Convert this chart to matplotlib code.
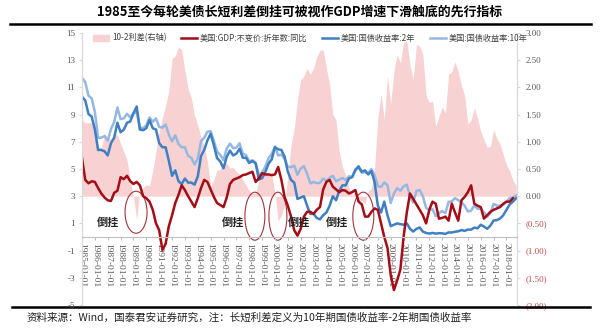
import matplotlib
matplotlib.use("Agg")
import matplotlib.pyplot as plt
from matplotlib.lines import Line2D
from matplotlib.patches import Ellipse, Patch
import numpy as np

plt.rcParams['font.family'] = ['Noto Sans CJK SC', 'DejaVu Sans']
plt.rcParams['axes.unicode_minus'] = False

# 季度数据（年份+小数表示季度起点）
q_start = 1985.0
quarters = np.arange(0, 136) * 0.25 + q_start

# 美国10年期国债收益率
y10 = [
    11.7, 11.4, 10.4, 10.2,
    9.19, 7.30, 7.30, 7.43,
    7.08, 7.94, 8.45, 9.52,
    8.67, 8.72, 9.06, 8.80,
    9.09, 9.18, 8.02, 8.01,
    8.21, 8.79, 8.47, 8.72,
    8.09, 8.04, 8.27, 7.53,
    7.03, 7.48, 6.84, 6.59,
    6.60, 5.97, 5.81, 5.33,
    5.75, 7.04, 7.30, 7.74,
    7.78, 7.06, 6.28, 6.04,
    5.65, 6.51, 6.87, 6.53,
    6.58, 6.89, 6.12, 6.03,
    5.54, 5.64, 5.46, 4.53,
    4.72, 5.18, 5.79, 6.11,
    6.66, 5.99, 6.05, 5.74,
    5.16, 5.14, 5.24, 4.57,
    5.04, 5.21, 4.65, 3.94,
    4.05, 3.96, 3.98, 4.29,
    4.15, 4.35, 4.50, 4.10,
    4.22, 4.34, 4.18, 4.46,
    4.42, 4.99, 5.09, 4.73,
    4.76, 4.69, 5.00, 4.53,
    3.74, 3.68, 4.01, 3.81,
    2.50, 3.20, 3.60, 3.40,
    3.73, 3.85, 3.01, 2.54,
    3.39, 3.46, 3.00, 2.15,
    1.97, 2.05, 1.53, 1.75,
    1.91, 1.76, 2.58, 2.62,
    2.86, 2.71, 2.54, 2.30,
    1.88, 1.94, 2.32, 2.07,
    2.09, 1.81, 1.50, 1.76,
    2.43, 2.30, 2.32, 2.36,
    2.58, 2.87, 2.89, 3.05,
]

# 美国2年期国债收益率
y2 = [
    10.3, 10.05, 9.05, 8.85,
    7.9, 6.4, 6.4, 6.3,
    6.0, 6.9, 7.3, 8.4,
    7.7, 7.9, 8.4, 8.5,
    9.1, 9.6, 7.9, 7.85,
    8.0, 8.6, 8.0, 7.9,
    6.9, 6.6, 6.6, 5.6,
    4.5, 4.9, 4.1, 3.9,
    4.3, 4.0, 4.0, 3.85,
    4.45, 5.95, 6.4, 7.1,
    7.6, 6.75, 5.8, 5.55,
    5.05, 5.9, 6.35, 6.0,
    6.13, 6.49, 5.82, 5.83,
    5.44, 5.59, 5.41, 4.23,
    4.32, 4.78, 5.39, 5.71,
    6.6, 6.45, 6.4, 5.9,
    4.8, 4.2, 4.0, 2.8,
    2.9, 3.0, 2.3, 1.7,
    1.7, 1.4, 1.3, 1.6,
    1.8, 2.3, 3.0, 2.7,
    3.4, 3.8, 3.8, 4.3,
    4.4, 4.9, 5.2, 4.8,
    4.9, 4.6, 4.85, 4.0,
    2.3, 1.8, 2.6, 1.6,
    0.8, 0.9, 1.0, 0.95,
    0.9, 1.0, 0.6, 0.4,
    0.6, 0.7, 0.4, 0.3,
    0.25, 0.3, 0.25, 0.28,
    0.27, 0.23, 0.34, 0.33,
    0.39, 0.42, 0.51, 0.45,
    0.55, 0.54, 0.69, 0.64,
    0.90, 0.77, 0.60, 0.84,
    1.21, 1.24, 1.36, 1.60,
    2.00, 2.40, 2.60, 2.85,
]

# 美国GDP不变价折年数同比
gdp = [
    5.8, 4.2, 3.95, 4.1,
    4.05, 3.6, 3.2, 2.9,
    2.7, 2.65, 3.25, 3.4,
    4.4, 4.25, 4.5, 4.1,
    3.9, 4.05, 3.8, 3.0,
    2.85, 2.6, 2.0, 1.0,
    0.5, -0.95, -0.5, 0.8,
    1.6, 2.5, 3.1, 3.8,
    3.45, 3.0, 2.6, 2.2,
    2.85, 3.6, 4.2, 4.05,
    3.5, 2.95, 2.5, 2.35,
    2.2, 2.9, 3.9, 4.2,
    4.3, 4.4, 4.55, 4.6,
    4.7, 4.8, 4.05, 4.3,
    4.7, 4.6, 4.6, 4.55,
    4.6, 5.15, 4.2, 2.95,
    2.3, 1.5, 0.5, 0.1,
    0.6, 1.5, 1.85, 1.85,
    1.7, 2.0, 2.2, 3.5,
    4.05, 4.2, 3.7, 3.5,
    3.3, 3.45, 3.4, 3.2,
    3.3, 3.45, 2.6, 2.4,
    1.5, 1.5, 1.85, 2.1,
    2.0, 1.0, 0.0, -0.8,
    -2.8, -3.9, -3.2, -2.4,
    0.0, 1.8, 3.2, 2.8,
    2.4, 2.0, 1.6, 1.0,
    2.0, 2.6, 2.45, 1.35,
    1.4, 1.5, 1.2, 2.45,
    1.8, 1.2, 2.7, 2.95,
    3.3, 3.8, 2.45, 2.3,
    2.2, 1.35, 1.6, 1.85,
    2.0, 2.1, 2.2, 2.45,
    2.6, 2.6, 2.85,
]

# 倒挂标注位置与椭圆圈
tag_x = [1986.98, 1996.73, 2001.86, 2004.8]
tag_y = 1.1
ring_x = [1989.2, 1998.44, 2000.23, 2006.87]
ring_y = [1.82, 1.53, 1.53, 1.53]
ring_w = [1.71, 1.55, 1.4, 1.63]
ring_h = [3.09, 3.53, 3.53, 3.53]

years = list(range(1985, 2019))
year_labels = [f"{y}-01-01" for y in years]

y10 = np.array(y10)
y2 = np.array(y2)
spread = y10 - y2

PINK = '#F8D2D2'
RED = '#A50D16'
BLUE = '#3F7FC2'
LBLUE = '#95B8E2'
GRAY = '#595959'

fig = plt.figure(figsize=(6, 3.32), dpi=100)
ax = fig.add_axes([0.1367, 0.0813, 0.725, 0.8193])
ax2 = ax.twinx()

# 先定位横轴，再设刻度（set_position 会重置刻度）
ax.spines['bottom'].set_position(('data', 0))

ax2.fill_between(quarters, 0, spread, color=PINK, lw=0)
ax2.set_ylim(-2, 3)
r_ticks = np.arange(-2, 3.01, 0.5)
r_labels = [f"({abs(v):.2f})" if v < 0 else f"{v:.2f}" for v in r_ticks]
ax2.set_yticks(r_ticks, r_labels)
ax2.tick_params(axis='y', length=2, pad=4, color='#D9D9D9', labelsize=6.5,
                labelfontfamily='Liberation Serif')
for v, lbl in zip(r_ticks, ax2.get_yticklabels()):
    lbl.set_color('#C0504D' if v < 0 else GRAY)

ax.plot(quarters, y10, color=LBLUE, lw=1.8)
ax.plot(quarters, y2, color=BLUE, lw=1.8)
ax.plot(quarters[:len(gdp)], gdp, color=RED, lw=1.8)

ax.set_zorder(2)
ax2.set_zorder(1)
ax.patch.set_visible(False)

ax.set_xlim(1985, 2018.82)
ax.set_ylim(-5, 15)
ax.set_yticks(range(-5, 16, 2))
ax.set_xticks(years, year_labels)
ax.tick_params(axis='y', length=2, pad=3, color='#D9D9D9', labelsize=6.5,
               labelcolor=GRAY, labelfontfamily='Liberation Serif')
ax.tick_params(axis='x', length=2, pad=2, color='#BFBFBF', labelsize=6.8,
               labelcolor=GRAY, labelrotation=270, labelfontfamily='Liberation Serif')

for a in (ax, ax2):
    a.spines['top'].set_visible(False)
    a.spines['left'].set_color('#D9D9D9')
    a.spines['right'].set_color('#D9D9D9')
    a.spines['bottom'].set_color('#BFBFBF')
ax2.spines['bottom'].set_visible(False)

for x in tag_x:
    ax.text(x, tag_y, '倒挂', fontsize=8, fontweight='bold', ha='center', va='center', color='#222222')
for cx, cy, w, h in zip(ring_x, ring_y, ring_w, ring_h):
    ax.add_patch(Ellipse((cx, cy), w, h, fill=False, ec='#A0353A', lw=0.8))

handles = [
    Patch(color=PINK),
    Line2D([], [], color=RED, lw=1.8),
    Line2D([], [], color=BLUE, lw=1.8),
    Line2D([], [], color=LBLUE, lw=1.8),
]
labels = ['10-2利差(右轴)', '美国:GDP:不变价:折年数:同比', '美国:国债收益率:2年', '美国:国债收益率:10年']
leg = ax.legend(handles, labels, loc='center left', bbox_to_anchor=(0.155, 0.8855),
                bbox_transform=fig.transFigure, ncol=4, frameon=False, fontsize=5.9,
                handlelength=2.0, handleheight=0.8, columnspacing=1.8, handletextpad=0.3,
                borderpad=0, borderaxespad=0)
for t in leg.get_texts():
    t.set_color('#404040')

fig.text(0.5, 1 - 12 / 332, '1985至今每轮美债长短利差倒挂可被视作GDP增速下滑触底的先行指标',
         ha='center', va='center', fontsize=9.3, fontweight='bold')
fig.add_artist(Line2D([0.017, 0.985], [1 - 23.5 / 332] * 2, color='black', lw=1.8))
fig.add_artist(Line2D([0.02, 0.983], [1 - 307 / 332] * 2, color='black', lw=1.8))
fig.text(0.045, 1 - 318 / 332,
         '资料来源：Wind，国泰君安证券研究，注：长短利差定义为10年期国债收益率-2年期国债收益率',
         ha='left', va='center', fontsize=7.6, color='#222222')

fig.savefig('out.png', dpi=100)
